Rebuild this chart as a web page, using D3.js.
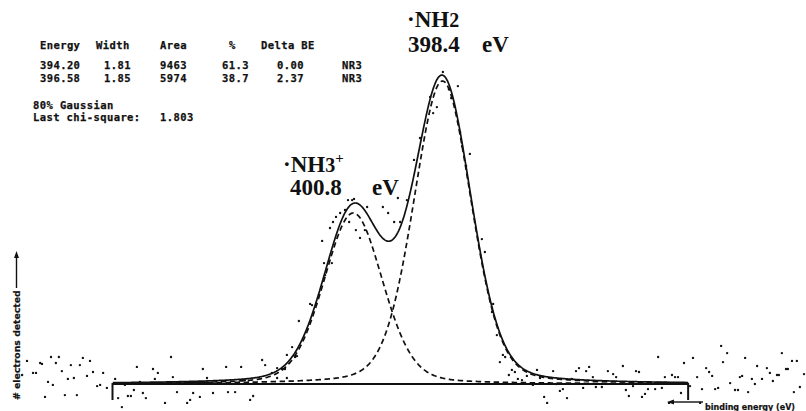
<!DOCTYPE html>
<html>
<head>
<meta charset="utf-8">
<script src="https://cdn.jsdelivr.net/npm/d3@7"></script>
<style>
body{margin:0;background:#fff;}
svg{display:block;}
.tbl{font-family:"DejaVu Sans Mono",monospace;font-weight:bold;font-size:10.5px;letter-spacing:0.4px;fill:#111;stroke:#111;stroke-width:0.25px;}
.axlab{font-family:"DejaVu Sans",sans-serif;font-weight:bold;font-size:8px;fill:#111;stroke:#111;stroke-width:0.2px;}
.peak{font-family:"Liberation Serif","Times New Roman",serif;font-weight:bold;font-size:23px;fill:#111;}
</style>
</head>
<body>
<div id="content"></div>
<script>
//fit table (as printed by the fitting program)
var peakEnergy = [394.20, 396.58];
var peakWidth  = [1.81, 1.85];
var peakArea   = [9463, 5974];
var peakPct    = [61.3, 38.7];
var peakDelta  = [0.00, 2.37];
var peakTag    = ['NR3', 'NR3'];
var tableHead  = ['Energy', 'Width', 'Area', '%', 'Delta BE'];
var gaussFrac  = 0.80;
var chiSquare  = 1.803;

//component heights (counts, a.u.)
var peakHeight = [101, 57];
//fitted region (binding energy, eV)
var fitRange = [403.0, 387.65];

//peak assignments
var peakNames = ['NH2', 'NH3'];
var peakBE    = ['398.4', '400.8'];

//raw scan points [binding energy eV, counts a.u.]
var scanPoints = [
  [405.41,3.0],[405.28,7.7],[405.12,3.7],[405.04,3.7],[404.93,7.0],[404.88,6.7],[404.80,-4.3],[404.72,0.7],
  [404.64,9.0],[404.59,-0.3],[404.51,7.0],[404.43,9.0],[404.35,4.3],[404.27,-3.7],[404.19,1.7],[404.11,6.3],
  [404.03,2.0],[403.95,-3.7],[403.87,6.3],[403.79,8.7],[403.68,2.7],[403.60,7.7],[403.52,4.0],[403.41,-0.7],
  [403.33,-0.3],[403.25,3.7],[403.15,-1.3],[402.93,1.7],[402.85,-4.7],[402.75,-7.7],[402.67,-0.3],[402.59,-4.0],
  [402.51,-4.0],[402.43,-2.0],[402.35,5.7],[402.27,0.7],[402.19,-3.0],[402.11,-4.7],[401.92,5.0],[401.87,1.7],
  [401.79,3.7],[401.60,-6.3],[401.44,9.0],[401.39,2.3],[401.28,-2.7],[401.01,-6.3],[400.93,-5.3],[400.85,-3.0],
  [400.67,-4.3],[400.59,5.0],[400.48,2.0],[400.32,-3.0],[400.13,0.3],[399.97,5.7],[399.92,-2.7],[399.73,-2.7],
  [399.57,5.7],[399.47,1.3],[399.33,-5.3],[399.25,-4.0],[399.01,8.0],[398.93,6.3],[398.75,3.7],[398.61,5.3],
  [398.61,2.0],[398.48,5.0],[398.40,5.0],[398.35,9.7],[398.35,2.0],[398.21,12.3],[398.13,9.0],[398.08,9.3],
  [398.03,21.0],[397.73,26.7],[397.68,26.3],[397.41,47.7],[397.36,40.3],[397.33,36.3],[397.20,52.0],[397.15,40.3],
  [397.12,54.0],[397.04,55.7],[396.93,57.0],[396.80,58.0],[396.72,61.3],[396.69,54.0],[396.61,61.3],[396.56,61.7],
  [396.51,51.3],[396.40,48.7],[396.27,51.3],[396.21,59.0],[395.79,59.0],[395.65,57.0],[395.49,54.0],[395.39,62.0],
  [395.33,54.0],[395.15,61.3],[394.96,74.7],[394.80,82.0],[394.53,95.7],[394.45,90.3],[394.35,92.3],[394.19,104.0],
  [394.03,98.3],[393.97,95.3],[393.79,99.3],[393.73,84.0],[393.68,79.3],[393.57,72.7],[393.47,76.7],[393.15,48.3],
  [393.07,44.0],[392.88,24.0],[392.85,26.7],[392.75,16.3],[392.67,7.3],[392.59,9.7],[392.53,9.0],[392.43,3.0],
  [392.35,4.7],[392.27,4.0],[392.19,1.7],[392.08,1.3],[391.95,2.7],[391.79,-0.3],[391.68,4.7],[391.60,2.0],
  [391.49,-4.3],[391.41,-6.3],[391.25,4.3],[391.17,0],[391.07,-2.3],[390.99,-1.7],[390.88,-4.7],[390.75,1.7],
  [390.64,4.3],[390.56,5.3],[390.45,-1.3],[390.37,4.3],[390.29,5.7],[390.19,2.3],[390.11,-1.0],[389.95,-1.0],
  [389.79,4.3],[389.65,3.3],[389.57,2.3],[389.39,6.0],[389.31,-2.0],[389.23,-4.0],[389.12,-0.7],[389.04,4.3],
  [388.96,4.0],[388.88,-4.3],[388.80,-3.3],[388.72,-1.7],[388.53,-1.7],[388.45,9.0],[388.35,-1.3],[388.27,2.3],
  [388.16,-6.3],[388.08,3.0],[388.00,2.3],[387.92,2.3],[387.84,-3.0],[387.76,7.0],[387.60,-0.7],[387.52,8.7],
  [387.41,2.3],[387.33,-6.3],[387.28,-1.7],[387.17,5.3],[387.09,4.0],[387.01,2.7],[386.93,-1.7],[386.85,-1.3],
  [386.77,12.7],[386.72,7.3],[386.61,10.3],[386.53,0.3],[386.40,-2.0],[386.32,-2.0],[386.27,2.3],[386.21,2.7],
  [386.13,8.7],[386.05,-2.7],[385.95,1.7],[385.87,0],[385.81,6.0],[385.68,1.7],[385.55,5.3],[385.47,3.7],
  [385.39,1.0],[385.28,3.0],[385.23,3.0],[385.15,10.3],[385.04,5.0],[384.99,5.0],[384.88,7.7],[384.83,-2.7],
  [384.75,7.7],[384.67,-1.0],[384.56,3.3]
];

var width = 806;
var height = 411;
var ink = '#111';

var svg = d3.select('#content').append('svg')
    .attr('width', width)
    .attr('height', height);

//binding energy runs right to left
var x = d3.scaleLinear().domain([406, 384]).range([0, 825]);
var y = d3.scaleLinear().domain([0, 100]).range([384, 84]);

//80% gaussian / 20% lorentzian line shape
function glPeak(e, i){
    var t = (e - peakEnergy[i]) / peakWidth[i];
    t = t * t;
    return peakHeight[i] * (gaussFrac * Math.exp(-4 * Math.LN2 * t) + (1 - gaussFrac) / (1 + 4 * t));
}

var grid = d3.range(fitRange[1], fitRange[0] + 0.001, 0.02);
var line = d3.line().x(function(d){ return x(d[0]); }).y(function(d){ return y(d[1]); });

//baseline with end markers
var x0 = x(fitRange[0]), x1 = x(fitRange[1]);
svg.append('line').attr('x1', x0).attr('x2', x1).attr('y1', y(0)).attr('y2', y(0))
    .attr('stroke', ink).attr('stroke-width', 2.2);
[x0, x1].forEach(function(xx){
    svg.append('line').attr('x1', xx).attr('x2', xx).attr('y1', y(0) - 1).attr('y2', y(0) + 16)
        .attr('stroke', ink).attr('stroke-width', 2);
});

//components (dashed)
peakEnergy.forEach(function(c, i){
    svg.append('path')
        .attr('d', line(grid.map(function(e){ return [e, glPeak(e, i)]; })))
        .attr('fill', 'none').attr('stroke', ink).attr('stroke-width', 1.7)
        .attr('stroke-dasharray', '5.5,3.5');
});

//envelope
svg.append('path')
    .attr('d', line(grid.map(function(e){ return [e, glPeak(e, 0) + glPeak(e, 1)]; })))
    .attr('fill', 'none').attr('stroke', ink).attr('stroke-width', 1.7);

//raw points
svg.append('g').selectAll('circle').data(scanPoints).enter().append('circle')
    .attr('cx', function(d){ return x(d[0]); })
    .attr('cy', function(d){ return y(d[1]); })
    .attr('r', 1.2)
    .attr('fill', ink);

//fit table
var colX = [40, 96, 160, 229, 261];
tableHead.forEach(function(t, i){
    svg.append('text').attr('class', 'tbl').attr('x', colX[i]).attr('y', 49).text(t);
});
peakEnergy.forEach(function(e, i){
    var yy = 69 + i * 12.5;
    svg.append('text').attr('class', 'tbl').attr('x', 40).attr('y', yy).text(e.toFixed(2));
    svg.append('text').attr('class', 'tbl').attr('x', 131).attr('y', yy).attr('text-anchor', 'end').text(peakWidth[i].toFixed(2));
    svg.append('text').attr('class', 'tbl').attr('x', 160).attr('y', yy).text(peakArea[i]);
    svg.append('text').attr('class', 'tbl').attr('x', 222).attr('y', yy).text(peakPct[i].toFixed(1));
    svg.append('text').attr('class', 'tbl').attr('x', 277).attr('y', yy).text(peakDelta[i].toFixed(2));
    svg.append('text').attr('class', 'tbl').attr('x', 342).attr('y', yy).text(peakTag[i]);
});
svg.append('text').attr('class', 'tbl').attr('x', 33).attr('y', 109).text(Math.round(gaussFrac * 100) + '% Gaussian');
svg.append('text').attr('class', 'tbl').attr('x', 33).attr('y', 121).text('Last chi-square:');
svg.append('text').attr('class', 'tbl').attr('x', 160).attr('y', 121).text(chiSquare.toFixed(3));

//peak labels
var t1 = svg.append('text').attr('class', 'peak').attr('x', 407).attr('y', 27);
t1.append('tspan').text('·' + peakNames[0].slice(0, 2));
t1.append('tspan').attr('font-size', '20px').text(peakNames[0].slice(2));
svg.append('text').attr('class', 'peak').attr('x', 408).attr('y', 52).text(peakBE[0]);
svg.append('text').attr('class', 'peak').attr('x', 482).attr('y', 52).text('eV');

var t2 = svg.append('text').attr('class', 'peak').attr('x', 283).attr('y', 172);
t2.append('tspan').text('·' + peakNames[1].slice(0, 2));
t2.append('tspan').attr('font-size', '20px').text(peakNames[1].slice(2));
t2.append('tspan').attr('font-size', '15px').attr('dy', -9).text('+');
svg.append('text').attr('class', 'peak').attr('x', 290).attr('y', 195).text(peakBE[1]);
svg.append('text').attr('class', 'peak').attr('x', 372).attr('y', 195).text('eV');

//axis captions with arrows
svg.append('text').attr('class', 'axlab')
    .attr('transform', 'translate(20,400) rotate(-90)')
    .style('font-size', '9.3px')
    .text('# electrons detected');
svg.append('line').attr('x1', 16.5).attr('x2', 16.5).attr('y1', 288).attr('y2', 256)
    .attr('stroke', ink).attr('stroke-width', 1.4);
svg.append('path').attr('d', 'M16.5,251L14,258L19,258Z').attr('fill', ink);

svg.append('line').attr('x1', 672).attr('x2', 703).attr('y1', 402).attr('y2', 402)
    .attr('stroke', ink).attr('stroke-width', 1.4);
svg.append('path').attr('d', 'M667,402L674,399.5L674,404.5Z').attr('fill', ink);
svg.append('text').attr('class', 'axlab').attr('x', 705).attr('y', 410).text('binding energy (eV)');
</script>
</body>
</html>
